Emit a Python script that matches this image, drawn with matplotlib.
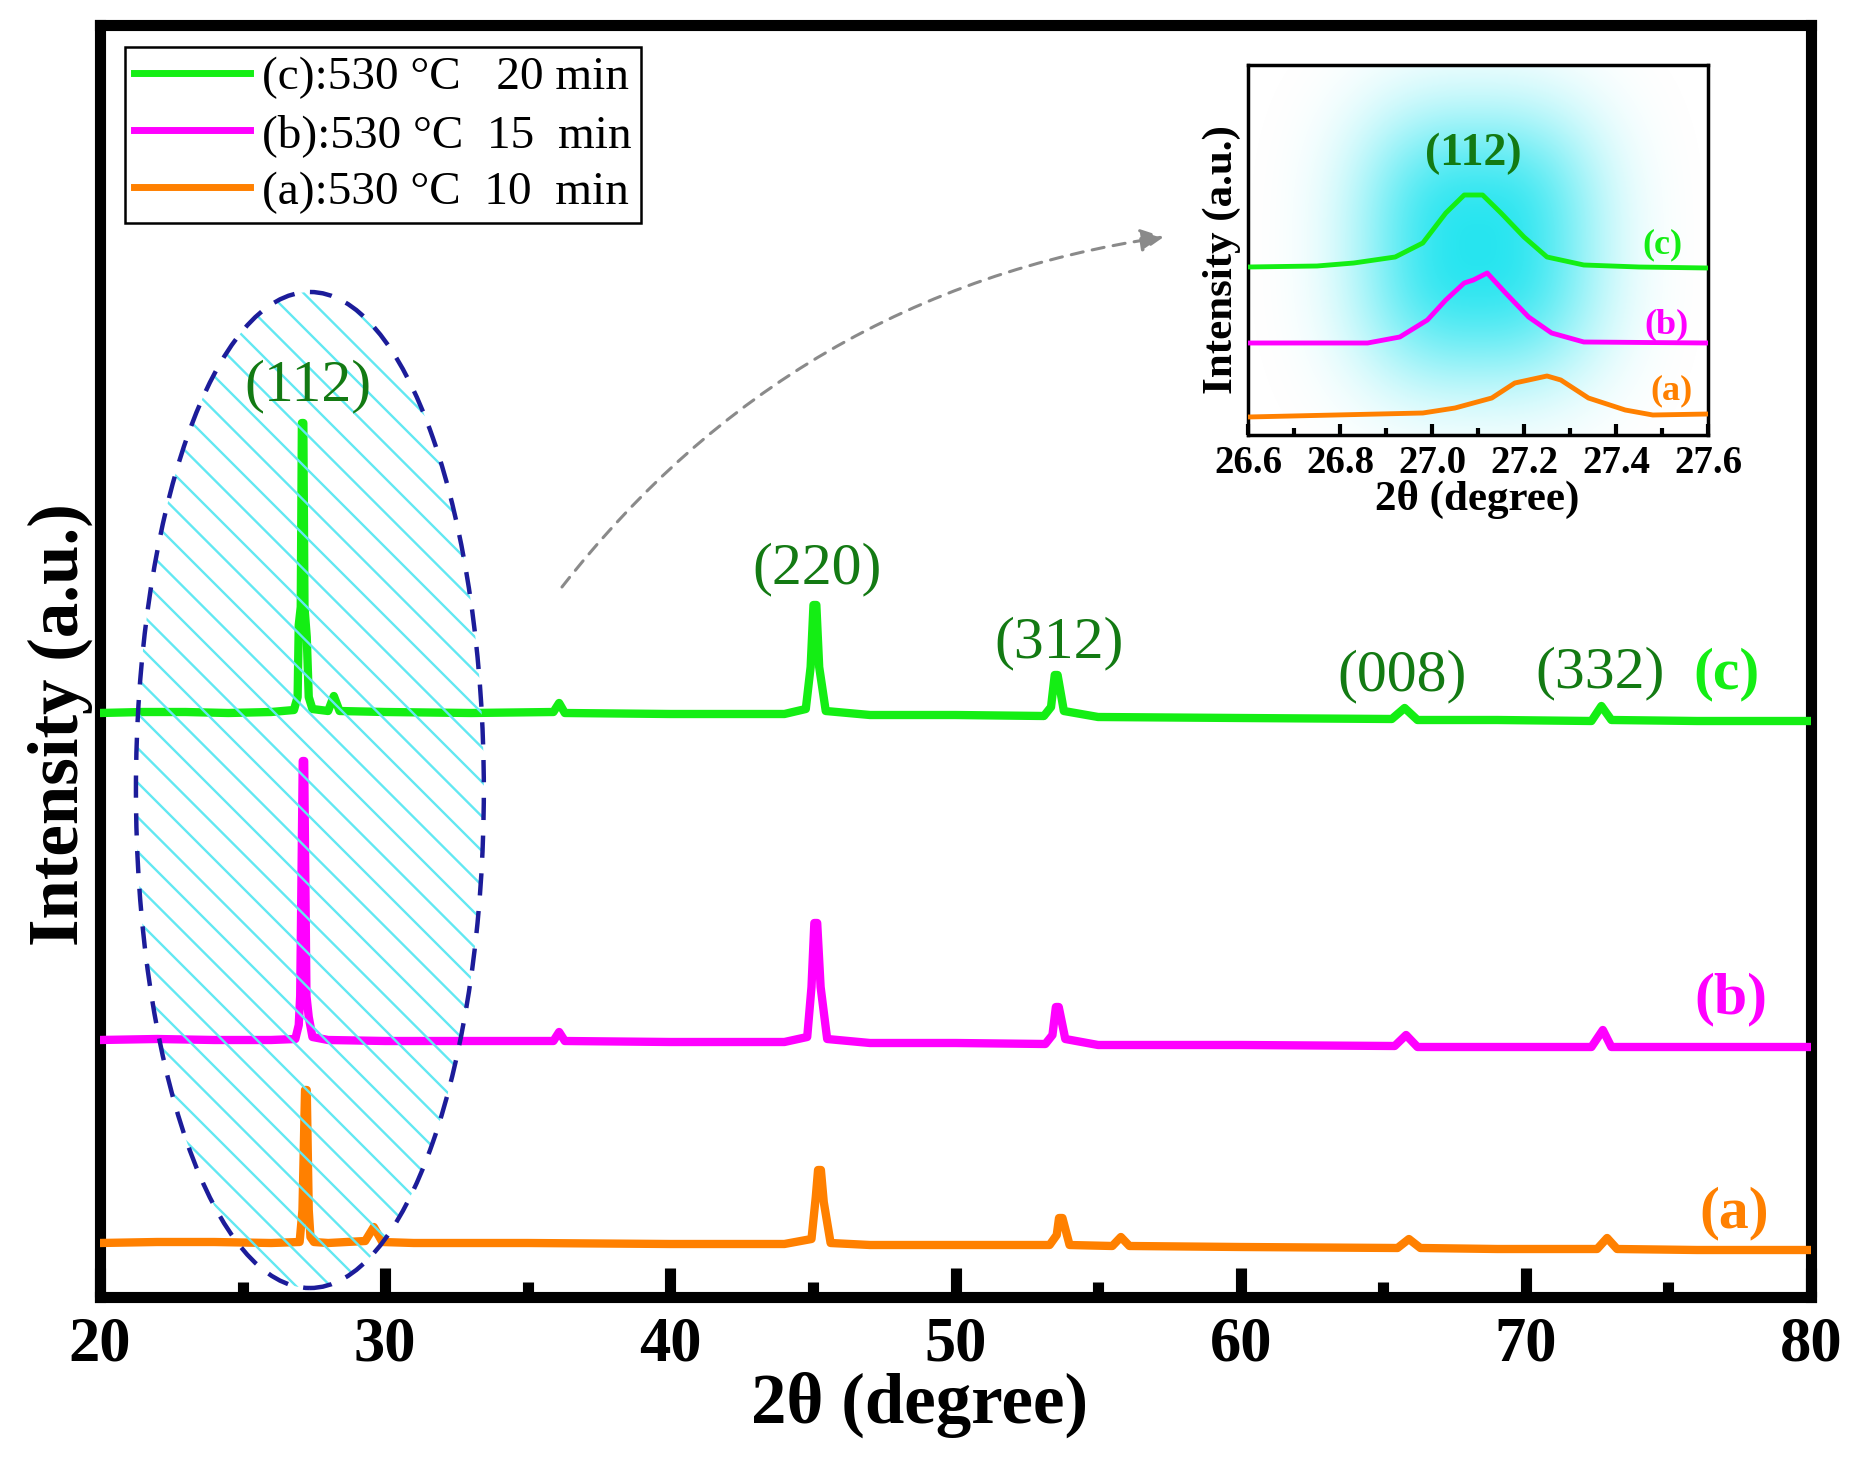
import numpy as np
import matplotlib
matplotlib.use("Agg")
import matplotlib.pyplot as plt
from matplotlib.patches import Ellipse
from matplotlib.ticker import MultipleLocator, FormatStrFormatter

W, H = 1859, 1458
plt.rcParams['font.family'] = ['Liberation Serif', 'DejaVu Serif']

# ---- main pattern, values (offset stacked, a.u.) ----
two_theta_c = [20.0, 21.5, 23.0, 24.5, 26.0, 26.8, 26.93, 26.97, 27.04, 27.08, 27.13, 27.17,
               27.25, 27.32, 27.45, 28.0, 28.2, 28.4, 30.0, 33.0, 35.9, 36.1, 36.3, 40.0,
               44.0, 44.75, 44.92, 45.02, 45.12, 45.22, 45.45, 47.0, 50.0, 53.1, 53.35, 53.48,
               53.58, 53.8, 55.0, 60.0, 65.3, 65.75, 66.2, 69.0, 72.3, 72.65, 73.0, 76.0, 80.0]
inten_c = [584, 585, 585, 584, 585, 587, 600, 672, 690, 874, 874, 690,
           660, 600, 588, 586, 601, 586, 585, 584, 585, 594, 584, 583,
           583, 588, 630, 692, 692, 630, 586, 582, 582, 581, 590, 622,
           622, 586, 580, 579, 578, 589, 577, 577, 576, 591, 577, 576, 576]

two_theta_b = [20.0, 22.0, 24.0, 26.0, 26.85, 26.97, 27.02, 27.11, 27.16, 27.24, 27.32, 27.45,
               28.0, 30.0, 33.0, 35.9, 36.1, 36.3, 40.0, 44.0, 44.8, 44.95, 45.05, 45.15,
               45.27, 45.5, 47.0, 50.0, 53.15, 53.4, 53.52, 53.62, 53.85, 55.0, 60.0, 65.4,
               65.8, 66.2, 69.0, 72.3, 72.7, 73.0, 76.0, 80.0]
inten_b = [257, 258, 257, 257, 258, 272, 301, 536, 536, 301, 280, 260,
           257, 256, 256, 256, 265, 256, 255, 255, 260, 310, 374, 374,
           310, 258, 254, 254, 253, 262, 290, 290, 258, 252, 252, 251,
           262, 250, 250, 250, 267, 250, 250, 250]

two_theta_a = [20.0, 22.0, 24.0, 26.0, 27.0, 27.1, 27.19, 27.25, 27.32, 27.38, 27.5, 28.0,
               29.3, 29.6, 29.9, 31.0, 35.0, 40.0, 44.0, 44.95, 45.1, 45.18, 45.28, 45.38,
               45.62, 47.0, 50.0, 53.3, 53.55, 53.63, 53.75, 54.0, 55.5, 55.8, 56.1, 60.0,
               65.5, 65.9, 66.3, 69.0, 72.5, 72.85, 73.2, 76.0, 80.0]
inten_a = [54, 55, 55, 54, 55, 87, 207, 207, 87, 60, 55, 54,
           56, 70, 55, 54, 54, 53, 53, 58, 100, 127, 127, 95,
           54, 52, 52, 52, 62, 79, 79, 52, 51, 60, 51, 50,
           49, 58, 49, 48, 48, 59, 48, 47, 47]

legend_labels = ['(c):530 \u00b0C   20 min', '(b):530 \u00b0C  15  min', '(a):530 \u00b0C  10  min']
hkl_labels = ['(220)', '(312)', '(008)', '(332)']
hkl_pos = [45.14, 53.63, 65.65, 72.6]
hkl_base = [714, 640, 607, 610]

# ---- inset: (112) peak zoom ----
in_theta_c = [26.6, 26.75, 26.83, 26.92, 26.98, 27.03, 27.07, 27.11, 27.15, 27.20, 27.25, 27.33, 27.45, 27.6]
in_int_c = [168, 169, 172, 178, 192, 222, 240, 240, 222, 198, 178, 170, 168, 167]
in_theta_b = [26.6, 26.86, 26.93, 26.99, 27.03, 27.07, 27.09, 27.12, 27.16, 27.21, 27.26, 27.33, 27.6]
in_int_b = [92, 92, 98, 115, 135, 152, 155, 162, 142, 118, 102, 93, 92]
in_theta_a = [26.6, 26.98, 27.05, 27.13, 27.18, 27.25, 27.28, 27.34, 27.42, 27.48, 27.6]
in_int_a = [18, 22, 27, 37, 52, 59, 55, 37, 25, 20, 21]

col_c, col_b, col_a = '#14ee14', '#ff00ff', '#ff8000'
dkgreen = '#137a13'


def fx(px):
    return px / W


def fy(py):
    return 1 - py / H


fig = plt.figure(figsize=(W / 100, H / 100), dpi=100)
ax = fig.add_axes([fx(100), fy(1297), (1811 - 100) / W, (1297 - 25) / H])

la, = ax.plot(two_theta_a, inten_a, color=col_a, lw=6, solid_joinstyle='round', zorder=3)
lb, = ax.plot(two_theta_b, inten_b, color=col_b, lw=6, solid_joinstyle='round', zorder=3)
lc, = ax.plot(two_theta_c, inten_c, color=col_c, lw=6, solid_joinstyle='round', zorder=3)

ax.set_xlim(20, 80)
ax.set_ylim(0, 1272)
ax.set_yticks([])
ax.xaxis.set_major_locator(MultipleLocator(10))
ax.xaxis.set_minor_locator(MultipleLocator(5))
ax.tick_params(axis='x', which='major', direction='in', length=21, width=8,
               labelsize=45, pad=14)
ax.tick_params(axis='x', which='minor', direction='in', length=11, width=8)
for lab in ax.get_xticklabels():
    lab.set_fontweight('bold')
for s in ax.spines.values():
    s.set_linewidth(8)

# hatched dashed ellipse around (112)
ell = Ellipse((27.36, 507), 12.2, 996, fill=False, edgecolor='#1c1c9a', lw=3.2,
              linestyle=(0, (5, 3.5)), zorder=5)
ax.add_patch(ell)
for c0 in np.arange(0, 1400, 34.5):
    hl, = ax.plot([20, 35], [c0, c0 - 28.52 * 15], color='#62e8f2', lw=1.7, zorder=4)
    hl.set_clip_path(ell)

ax.text(27.3, 897, '(112)', color=dkgreen, fontsize=43, ha='center', va='baseline', zorder=6)
for t, xp, yb in zip(hkl_labels, hkl_pos, hkl_base):
    ax.text(xp, yb, t, color=dkgreen, fontsize=43, ha='center', va='baseline')
ax.text(77.05, 609, '(c)', color=col_c, fontsize=43, fontweight='bold', ha='center', va='baseline')
ax.text(77.2, 284, '(b)', color=col_b, fontsize=43, fontweight='bold', ha='center', va='baseline')
ax.text(77.3, 70, '(a)', color=col_a, fontsize=43, fontweight='bold', ha='center', va='baseline')

ax.annotate('', xy=(57.3, 1060), xytext=(36.2, 710),
            arrowprops=dict(arrowstyle='-|>', linestyle=(0, (4, 3)), color='#8a8a8a', lw=2.2,
                            connectionstyle='arc3,rad=-0.2', mutation_scale=35,
                            shrinkA=0, shrinkB=0))

leg = fig.legend([lc, lb, la], legend_labels, loc='upper left',
                 bbox_to_anchor=(fx(125), fy(47)), borderaxespad=0, fontsize=34,
                 frameon=True, fancybox=False, edgecolor='black', framealpha=1,
                 handlelength=2.45, handletextpad=0.25, labelspacing=0.3, borderpad=0.2)
leg.get_frame().set_linewidth(1.8)
for hd in leg.legend_handles:
    hd.set_linewidth(5)

fig.text(fx(920), fy(1423), '2\u03b8 (degree)', fontsize=51, fontweight='bold',
         ha='center', va='baseline')
fig.text(fx(60), fy(725), 'Intensity (a.u.)', fontsize=51, fontweight='bold',
         ha='center', va='center', rotation=90)

# ---- inset ----
ax_in = fig.add_axes([fx(1248), fy(435), (1708 - 1248) / W, (435 - 65) / H])
ax_in.set_xlim(26.6, 27.6)
ax_in.set_ylim(0, 370)

# soft, squarish cyan glow behind the peaks
gx = np.linspace(26.6, 27.6, 300)
gy = np.linspace(0, 370, 300)
GX, GY = np.meshgrid(gx, gy)
glow = np.exp(-np.abs((GX - 27.1) / 0.26) ** 2.6) * np.exp(-np.abs((GY - 190) / 135) ** 2.6)
rgba = np.zeros(GX.shape + (4,))
rgba[..., 1] = 0.88
rgba[..., 2] = 0.93
rgba[..., 3] = 0.85 * glow
ax_in.imshow(rgba, extent=(26.6, 27.6, 0, 370), origin='lower', aspect='auto',
             interpolation='bilinear', zorder=0)

ax_in.plot(in_theta_c, in_int_c, color=col_c, lw=3.5, zorder=3)
ax_in.plot(in_theta_b, in_int_b, color=col_b, lw=3.5, zorder=3)
ax_in.plot(in_theta_a, in_int_a, color=col_a, lw=3.5, zorder=3)
ax_in.set_yticks([])
ax_in.xaxis.set_major_locator(MultipleLocator(0.2))
ax_in.xaxis.set_minor_locator(MultipleLocator(0.1))
ax_in.xaxis.set_major_formatter(FormatStrFormatter('%.1f'))
ax_in.tick_params(axis='x', which='major', direction='in', length=8, width=3,
                  labelsize=28, pad=7)
ax_in.tick_params(axis='x', which='minor', direction='in', length=5, width=3)
for lab in ax_in.get_xticklabels():
    lab.set_fontweight('bold')
for s in ax_in.spines.values():
    s.set_linewidth(2.5)

ax_in.text(27.09, 270, '(112)', color=dkgreen, fontsize=33, fontweight='bold',
           ha='center', va='baseline')
ax_in.text(27.50, 182, '(c)', color=col_c, fontsize=26, fontweight='bold', ha='center', va='baseline')
ax_in.text(27.51, 102, '(b)', color=col_b, fontsize=26, fontweight='bold', ha='center', va='baseline')
ax_in.text(27.52, 36, '(a)', color=col_a, fontsize=26, fontweight='bold', ha='center', va='baseline')

fig.text(fx(1477), fy(510), '2\u03b8 (degree)', fontsize=31, fontweight='bold',
         ha='center', va='baseline')
fig.text(fx(1222), fy(260), 'Intensity (a.u.)', fontsize=31, fontweight='bold',
         ha='center', va='center', rotation=90)

fig.savefig('out.png', dpi=100, facecolor='white')
